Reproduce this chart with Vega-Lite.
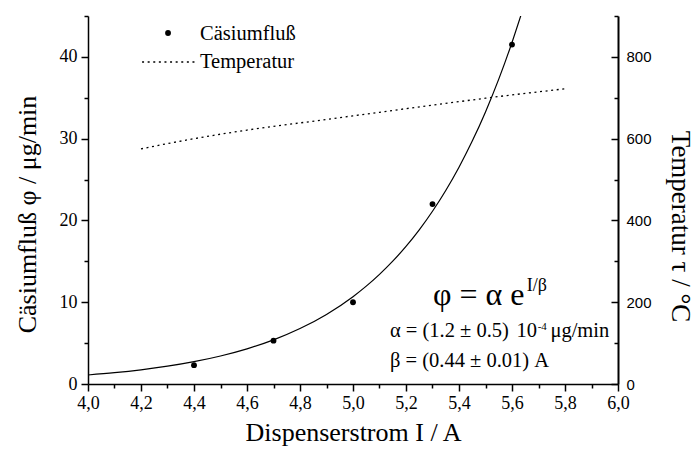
{
  "$schema": "https://vega.github.io/schema/vega-lite/v6.json",
  "width": 530,
  "height": 368,
  "autosize": {"type": "none"},
  "padding": {"top": 16, "left": 88, "right": 78, "bottom": 66},
  "background": "white",
  "config": {"view": {"stroke": null}, "axis": {"grid": false, "domainColor": "black", "tickColor": "black", "labelColor": "black", "titleColor": "black", "titleFontWeight": "normal"}},
  "datasets": {
    "fit": [
      {"I": 4.0, "phi": 1.100}, {"I": 4.1, "phi": 1.381}, {"I": 4.2, "phi": 1.734}, {"I": 4.3, "phi": 2.176},
      {"I": 4.4, "phi": 2.731}, {"I": 4.5, "phi": 3.428}, {"I": 4.6, "phi": 4.303}, {"I": 4.7, "phi": 5.401},
      {"I": 4.8, "phi": 6.779}, {"I": 4.9, "phi": 8.509}, {"I": 5.0, "phi": 10.680}, {"I": 5.05, "phi": 11.966},
      {"I": 5.1, "phi": 13.406}, {"I": 5.15, "phi": 15.019}, {"I": 5.2, "phi": 16.827}, {"I": 5.25, "phi": 18.851},
      {"I": 5.3, "phi": 21.120}, {"I": 5.35, "phi": 23.663}, {"I": 5.4, "phi": 26.509}, {"I": 5.45, "phi": 29.701},
      {"I": 5.5, "phi": 33.274}, {"I": 5.55, "phi": 37.277}, {"I": 5.6, "phi": 41.766}, {"I": 5.633, "phi": 45.02}
    ],
    "meas": [
      {"I": 4.4, "phi": 2.3}, {"I": 4.7, "phi": 5.3}, {"I": 5.0, "phi": 10.0}, {"I": 5.3, "phi": 22.0}, {"I": 5.6, "phi": 41.5}
    ],
    "temp": [
      {"I": 4.2, "T": 575}, {"I": 4.3, "T": 588}, {"I": 4.4, "T": 600}, {"I": 4.5, "T": 611}, {"I": 4.6, "T": 621},
      {"I": 4.7, "T": 630}, {"I": 4.8, "T": 638.5}, {"I": 4.9, "T": 647}, {"I": 5.0, "T": 656}, {"I": 5.1, "T": 664.5},
      {"I": 5.2, "T": 673.5}, {"I": 5.3, "T": 682}, {"I": 5.4, "T": 690.5}, {"I": 5.5, "T": 699}, {"I": 5.6, "T": 707},
      {"I": 5.7, "T": 714.5}, {"I": 5.8, "T": 722}
    ],
    "legpt": [{"I": 4.302, "phi": 42.92}],
    "legtxt": [{"I": 4.4226, "phi": 42.06, "label": "Cäsiumfluß"}, {"I": 4.4226, "phi": 38.64, "label": "Temperatur"}],
    "legline": [{"I": 4.204, "T": 787.5}, {"I": 4.404, "T": 787.5}],
    "big": [{"I": 5.302, "phi": 9.66, "label": "φ = α e"}],
    "sup1": [{"I": 5.656, "phi": 11.37, "label": "I/β"}],
    "sup2": [{"I": 5.697, "phi": 6.6, "label": "-4"}],
    "mid": [
      {"I": 5.1396, "phi": 5.75, "label": "α = (1.2 ± 0.5)"},
      {"I": 5.617, "phi": 5.75, "label": "10"},
      {"I": 5.745, "phi": 5.75, "label": "μg/min"},
      {"I": 5.1396, "phi": 2.08, "label": "β = (0.44 ± 0.01) A"}
    ]
  },
  "resolve": {"scale": {"x": "independent", "y": "independent"}, "axis": {"x": "independent", "y": "independent"}},
  "layer": [
    {
      "data": {"name": "fit"},
      "mark": {"type": "line", "color": "black", "strokeWidth": 1.2, "clip": true, "interpolate": "monotone"},
      "encoding": {
        "x": {"field": "I", "type": "quantitative", "scale": {"domain": [4, 6], "nice": false, "zero": false},
          "axis": {"orient": "bottom", "values": [4, 4.2, 4.4, 4.6, 4.8, 5, 5.2, 5.4, 5.6, 5.8, 6], "format": ".1f",
            "labelExpr": "replace(datum.label, '.', ',')", "tickSize": 7, "labelPadding": 3,
            "labelFont": "Liberation Serif", "labelFontSize": 18, "domainWidth": 1.5, "tickWidth": 1.5,
            "title": "Dispenserstrom I  / A", "titleFont": "Liberation Serif", "titleFontSize": 26, "titlePadding": 7,
            "labelFlush": false, "labelOverlap": false}},
        "y": {"field": "phi", "type": "quantitative", "scale": {"domain": [0, 45], "nice": false},
          "axis": {"orient": "left", "values": [0, 10, 20, 30, 40], "tickSize": 7, "labelPadding": 4,
            "labelFont": "Liberation Serif", "labelFontSize": 18, "domainWidth": 1.5, "tickWidth": 1.5,
            "title": "Cäsiumfluß φ / μg/min", "titleFont": "Liberation Serif", "titleFontSize": 26, "titlePadding": 19,
            "titleY": 198, "labelFlush": false, "labelOverlap": false}}
      }
    },
    {
      "data": {"name": "meas"},
      "mark": {"type": "point", "filled": true, "color": "black", "opacity": 1, "size": 34},
      "encoding": {
        "x": {"field": "I", "type": "quantitative", "scale": {"domain": [4, 6], "nice": false, "zero": false},
          "axis": {"orient": "bottom", "values": [4.1, 4.3, 4.5, 4.7, 4.9, 5.1, 5.3, 5.5, 5.7, 5.9], "tickSize": 4, "tickWidth": 1.5,
            "labels": false, "domain": false, "title": null}},
        "y": {"field": "phi", "type": "quantitative", "scale": {"domain": [0, 45], "nice": false},
          "axis": {"orient": "left", "values": [5, 15, 25, 35, 45], "tickSize": 4, "tickWidth": 1.5,
            "labels": false, "domain": false, "title": null}}
      }
    },
    {
      "data": {"name": "temp"},
      "mark": {"type": "line", "color": "black", "strokeWidth": 1.3, "strokeDash": [2, 3.6]},
      "encoding": {
        "x": {"field": "I", "type": "quantitative", "scale": {"domain": [4, 6], "nice": false, "zero": false}, "axis": null},
        "y": {"field": "T", "type": "quantitative", "scale": {"domain": [0, 900], "nice": false},
          "axis": {"orient": "right", "values": [0, 200, 400, 600, 800], "tickSize": -7, "labelPadding": 15,
            "labelFont": "Liberation Sans", "labelFontSize": 15, "domainWidth": 2, "tickWidth": 1.5,
            "title": "Temperatur τ / °C", "titleFont": "Liberation Serif", "titleFontSize": 27, "titleAngle": 90,
            "titlePadding": 14, "titleY": 210, "labelFlush": false, "labelOverlap": false}}
      }
    },
    {
      "data": {"name": "legline"},
      "mark": {"type": "line", "color": "black", "strokeWidth": 1.3, "strokeDash": [2, 3.6]},
      "encoding": {
        "x": {"field": "I", "type": "quantitative", "scale": {"domain": [4, 6], "nice": false, "zero": false}, "axis": null},
        "y": {"field": "T", "type": "quantitative", "scale": {"domain": [0, 900], "nice": false},
          "axis": {"orient": "right", "values": [100, 300, 500, 700, 900], "tickSize": -4, "tickWidth": 1.5,
            "labels": false, "domain": false, "title": null}}
      }
    },
    {
      "data": {"name": "legpt"},
      "mark": {"type": "point", "filled": true, "color": "black", "opacity": 1, "size": 34},
      "encoding": {
        "x": {"field": "I", "type": "quantitative", "scale": {"domain": [4, 6], "nice": false, "zero": false}, "axis": null},
        "y": {"field": "phi", "type": "quantitative", "scale": {"domain": [0, 45], "nice": false}, "axis": null}
      }
    },
    {
      "data": {"name": "legtxt"},
      "mark": {"type": "text", "align": "left", "baseline": "alphabetic", "font": "Liberation Serif", "fontSize": 20.5, "color": "black"},
      "encoding": {
        "x": {"field": "I", "type": "quantitative", "scale": {"domain": [4, 6], "nice": false, "zero": false}, "axis": null},
        "y": {"field": "phi", "type": "quantitative", "scale": {"domain": [0, 45], "nice": false}, "axis": null},
        "text": {"field": "label"}
      }
    },
    {
      "data": {"name": "big"},
      "mark": {"type": "text", "align": "left", "baseline": "alphabetic", "font": "Liberation Serif", "fontSize": 32, "color": "black"},
      "encoding": {
        "x": {"field": "I", "type": "quantitative", "scale": {"domain": [4, 6], "nice": false, "zero": false}, "axis": null},
        "y": {"field": "phi", "type": "quantitative", "scale": {"domain": [0, 45], "nice": false}, "axis": null},
        "text": {"field": "label"}
      }
    },
    {
      "data": {"name": "sup1"},
      "mark": {"type": "text", "align": "left", "baseline": "alphabetic", "font": "Liberation Serif", "fontSize": 18, "color": "black"},
      "encoding": {
        "x": {"field": "I", "type": "quantitative", "scale": {"domain": [4, 6], "nice": false, "zero": false}, "axis": null},
        "y": {"field": "phi", "type": "quantitative", "scale": {"domain": [0, 45], "nice": false}, "axis": null},
        "text": {"field": "label"}
      }
    },
    {
      "data": {"name": "sup2"},
      "mark": {"type": "text", "align": "left", "baseline": "alphabetic", "font": "Liberation Serif", "fontSize": 11, "color": "black"},
      "encoding": {
        "x": {"field": "I", "type": "quantitative", "scale": {"domain": [4, 6], "nice": false, "zero": false}, "axis": null},
        "y": {"field": "phi", "type": "quantitative", "scale": {"domain": [0, 45], "nice": false}, "axis": null},
        "text": {"field": "label"}
      }
    },
    {
      "data": {"name": "mid"},
      "mark": {"type": "text", "align": "left", "baseline": "alphabetic", "font": "Liberation Serif", "fontSize": 20.5, "color": "black"},
      "encoding": {
        "x": {"field": "I", "type": "quantitative", "scale": {"domain": [4, 6], "nice": false, "zero": false}, "axis": null},
        "y": {"field": "phi", "type": "quantitative", "scale": {"domain": [0, 45], "nice": false}, "axis": null},
        "text": {"field": "label"}
      }
    }
  ]
}
